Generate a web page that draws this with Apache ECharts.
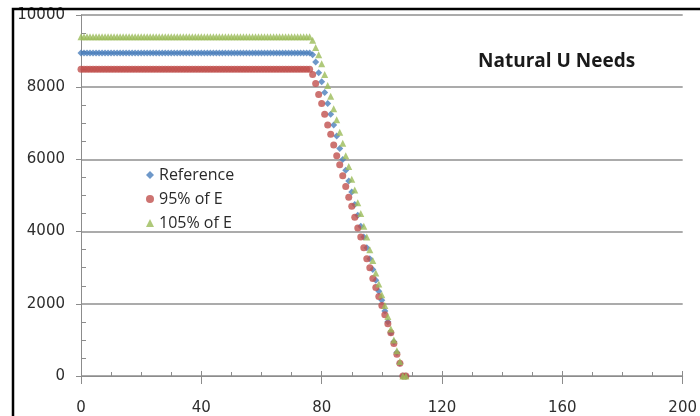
<!DOCTYPE html>
<html>
<head>
<meta charset="utf-8">
<script src="https://cdn.jsdelivr.net/npm/echarts@6/dist/echarts.min.js"></script>
<style>
html,body{margin:0;padding:0;background:#fff;}
#chart{width:700px;height:416px;}
</style>
</head>
<body>
<div id="chart"></div>
<script>
var titleText = 'Natural U Needs';
var seriesNames = ['Reference', '95% of E', '105% of E'];
var xTicks = [0, 40, 80, 120, 160, 200];
var yTicks = [0, 2000, 4000, 6000, 8000, 10000];

var xValues = [
  0,1,2,3,4,5,6,7,8,9,10,11,12,13,14,15,16,17,18,19,
  20,21,22,23,24,25,26,27,28,29,30,31,32,33,34,35,36,37,38,39,
  40,41,42,43,44,45,46,47,48,49,50,51,52,53,54,55,56,57,58,59,
  60,61,62,63,64,65,66,67,68,69,70,71,72,73,74,75,76,77,78,79,
  80,81,82,83,84,85,86,87,88,89,90,91,92,93,94,95,96,97,98,99,
  100,101,102,103,104,105,106,107,108
];

var refValues = [
  8950,8950,8950,8950,8950,8950,8950,8950,8950,8950,8950,8950,8950,8950,8950,8950,8950,8950,8950,8950,
  8950,8950,8950,8950,8950,8950,8950,8950,8950,8950,8950,8950,8950,8950,8950,8950,8950,8950,8950,8950,
  8950,8950,8950,8950,8950,8950,8950,8950,8950,8950,8950,8950,8950,8950,8950,8950,8950,8950,8950,8950,
  8950,8950,8950,8950,8950,8950,8950,8950,8950,8950,8950,8950,8950,8950,8950,8950,8950,8900,8700,8400,
  8150,7850,7550,7250,6950,6650,6300,6000,5700,5400,5100,4750,4450,4150,3850,3550,3250,2950,2650,2350,
  2100,1800,1500,1200,950,650,350,0,0
];

var lowValues = [
  8500,8500,8500,8500,8500,8500,8500,8500,8500,8500,8500,8500,8500,8500,8500,8500,8500,8500,8500,8500,
  8500,8500,8500,8500,8500,8500,8500,8500,8500,8500,8500,8500,8500,8500,8500,8500,8500,8500,8500,8500,
  8500,8500,8500,8500,8500,8500,8500,8500,8500,8500,8500,8500,8500,8500,8500,8500,8500,8500,8500,8500,
  8500,8500,8500,8500,8500,8500,8500,8500,8500,8500,8500,8500,8500,8500,8500,8500,8500,8350,8100,7800,
  7550,7250,6950,6700,6400,6100,5850,5550,5250,4950,4700,4400,4100,3850,3550,3250,3000,2700,2450,2200,
  1950,1700,1450,1200,900,600,350,0,0
];

var highValues = [
  9400,9400,9400,9400,9400,9400,9400,9400,9400,9400,9400,9400,9400,9400,9400,9400,9400,9400,9400,9400,
  9400,9400,9400,9400,9400,9400,9400,9400,9400,9400,9400,9400,9400,9400,9400,9400,9400,9400,9400,9400,
  9400,9400,9400,9400,9400,9400,9400,9400,9400,9400,9400,9400,9400,9400,9400,9400,9400,9400,9400,9400,
  9400,9400,9400,9400,9400,9400,9400,9400,9400,9400,9400,9400,9400,9400,9400,9400,9400,9300,9100,8900,
  8650,8350,8050,7750,7400,7100,6750,6450,6100,5800,5450,5150,4800,4500,4150,3850,3500,3200,2850,2550,
  2250,1950,1650,1300,1000,700,400,0,0
];

function zip(xs, ys) {
  var out = [];
  for (var i = 0; i < xs.length; i++) out.push([xs[i], ys[i]]);
  return out;
}

var chart = echarts.init(document.getElementById('chart'), null, {renderer: 'canvas'});
var axisGray = '#8c8c8c';
var labelColor = '#2e2e2e';
var plainNum = function (v) { return String(v); };

var xCommon = {
  type: 'value', min: xTicks[0], max: xTicks[xTicks.length - 1],
  interval: xTicks[1] - xTicks[0]
};
var yCommon = {
  type: 'value', min: yTicks[0], max: yTicks[yTicks.length - 1],
  interval: yTicks[1] - yTicks[0]
};

chart.setOption({
  animation: false,
  backgroundColor: '#ffffff',
  title: {
    text: titleText,
    left: 473, top: 47,
    textStyle: {fontFamily: 'Open Sans', fontWeight: 'bold', fontSize: 19, color: '#1a1a1a'}
  },
  legend: {
    orient: 'vertical',
    left: 141, top: 160,
    itemWidth: 8, itemHeight: 8, itemGap: 4,
    textStyle: {fontFamily: 'Open Sans', fontSize: 16, color: '#2a2a2a', lineHeight: 20},
    data: [
      {name: seriesNames[0], icon: 'diamond'},
      {name: seriesNames[1], icon: 'circle'},
      {name: seriesNames[2], icon: 'triangle'}
    ]
  },
  grid: {left: 81, right: 13, top: 15, bottom: 39, containLabel: false},
  xAxis: [
    Object.assign({}, xCommon, {
      position: 'bottom',
      axisLine: {show: true, lineStyle: {color: axisGray, width: 1}},
      axisTick: {show: true, inside: false, length: 8, lineStyle: {color: axisGray}},
      minorTick: {show: false},
      axisLabel: {show: true, margin: 25, fontFamily: 'DejaVu Sans', fontSize: 15, color: labelColor, formatter: plainNum},
      splitLine: {show: false}
    }),
    Object.assign({}, xCommon, {
      position: 'bottom',
      axisLine: {show: false},
      axisTick: {show: true, inside: true, length: 5, lineStyle: {color: axisGray}},
      minorTick: {show: true, splitNumber: 4, length: 4, lineStyle: {color: axisGray}},
      axisLabel: {show: false},
      splitLine: {show: false}
    })
  ],
  yAxis: [
    Object.assign({}, yCommon, {
      position: 'left',
      axisLine: {show: true, lineStyle: {color: axisGray, width: 1}},
      axisTick: {show: true, inside: false, length: 5, lineStyle: {color: axisGray}},
      minorTick: {show: false},
      axisLabel: {show: true, margin: 16, fontFamily: 'DejaVu Sans', fontSize: 15, color: labelColor, formatter: plainNum},
      splitLine: {show: true, lineStyle: {color: '#8f8f8f', width: 1.5}}
    }),
    Object.assign({}, yCommon, {
      position: 'left',
      axisLine: {show: false},
      axisTick: {show: false, inside: true},
      minorTick: {show: true, splitNumber: 4, length: 5, lineStyle: {color: axisGray}},
      axisLabel: {show: false},
      splitLine: {show: false}
    })
  ],
  graphic: [{
    type: 'rect', silent: true, z: 100,
    shape: {x: 13, y: 9, width: 700, height: 420},
    style: {fill: 'none', stroke: '#000000', lineWidth: 2.5}
  }],
  series: [
    {
      name: seriesNames[0], type: 'scatter', symbol: 'diamond', symbolSize: 7,
      itemStyle: {color: '#4a7ebb'}, data: zip(xValues, refValues)
    },
    {
      name: seriesNames[1], type: 'scatter', symbol: 'circle', symbolSize: 7,
      itemStyle: {color: '#c0504d'}, data: zip(xValues, lowValues)
    },
    {
      name: seriesNames[2], type: 'scatter', symbol: 'triangle', symbolSize: 7,
      itemStyle: {color: '#9bbb59'}, data: zip(xValues, highValues)
    }
  ]
});
</script>
</body>
</html>
